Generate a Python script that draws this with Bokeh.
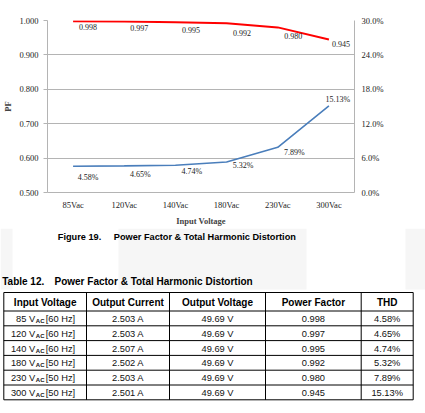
import math
from bokeh.plotting import figure
from bokeh.models import Range1d, LinearAxis, FixedTicker, PrintfTickFormatter, NumeralTickFormatter, Label
from bokeh.embed import file_html
from bokeh.resources import INLINE
from bokeh.core.properties import value

# ---------------- data ----------------
categories = ["85Vac", "120Vac", "140Vac", "180Vac", "230Vac", "300Vac"]
pf_values = [0.998, 0.997, 0.995, 0.992, 0.980, 0.945]
thd_values = [4.58, 4.65, 4.74, 5.32, 7.89, 15.13]          # percent
pf_ticks = [0.5, 0.6, 0.7, 0.8, 0.9, 1.0]
thd_ticks = [0, 6, 12, 18, 24, 30]

table_headers = ["Input Voltage", "Output Current", "Output Voltage", "Power Factor", "THD"]
table_vin = ["85", "120", "140", "180", "230", "300"]
table_freq = ["[60 Hz]", "[60 Hz]", "[60 Hz]", "[50 Hz]", "[50 Hz]", "[50 Hz]"]
table_iout = ["2.503 A", "2.503 A", "2.507 A", "2.502 A", "2.503 A", "2.501 A"]
table_vout = ["49.69 V", "49.69 V", "49.69 V", "49.69 V", "49.69 V", "49.69 V"]
table_pf = ["0.998", "0.997", "0.995", "0.992", "0.980", "0.945"]
table_thd = ["4.58%", "4.65%", "4.74%", "5.32%", "7.89%", "15.13%"]

figure_caption = ["Figure 19.", "Power Factor & Total Harmonic Distortion"]
table_caption = ["Table 12.", "Power Factor & Total Harmonic Distortion"]

# ---------------- styles ----------------
SERIF = "Liberation Serif"
SANS = "Liberation Sans"
GRID = "#b4b4b4"
RED = "#ff0000"
BLUE = "#4a7ebb"
pf_label_dx = [15, 15, 15.5, 15.5, 15.5, 12]
pf_label_dy = [6, 6, 7.5, 9.5, 9, 5]
thd_label_dx = [15, 16, 16.5, 16.5, 16.5, 9]
thd_label_dy = [11, 9, 6, 4, 5, -6]

W = 425
H_CHART = 228
H_TABLE = 185

# ---------------- chart ----------------
p = figure(x_range=categories, y_range=Range1d(0.5, 1.0), width=W, height=H_CHART,
           output_backend="svg", toolbar_location=None,
           min_border_left=43, min_border_right=71, min_border_top=20, min_border_bottom=35)
p.outline_line_color = None
p.background_fill_color = None
p.border_fill_color = None
p.xgrid.visible = False
p.ygrid.grid_line_color = GRID
p.ygrid.ticker = FixedTicker(ticks=pf_ticks)

ya = p.yaxis[0]
ya.ticker = FixedTicker(ticks=pf_ticks)
ya.formatter = NumeralTickFormatter(format="0.000")
ya.axis_line_color = GRID
ya.major_tick_line_color = GRID
ya.major_tick_out = 4
ya.major_tick_in = 0
ya.minor_tick_line_color = None
ya.major_label_standoff = 5
ya.major_label_text_font = SERIF
ya.major_label_text_font_size = "8.5px"
ya.major_label_text_color = "#222222"
ya.axis_label = "PF"
ya.axis_label_text_font = SERIF
ya.axis_label_text_font_style = "bold"
ya.axis_label_text_font_size = "8.5px"
ya.axis_label_standoff = 3

xa = p.xaxis[0]
xa.axis_line_color = GRID
xa.major_tick_line_color = None
xa.major_tick_out = 0
xa.major_tick_in = 0
xa.major_label_standoff = 7
xa.major_label_text_font = SERIF
xa.major_label_text_font_size = "8.5px"
xa.major_label_text_color = "#222222"
xa.axis_label = "Input Voltage"
xa.axis_label_text_font = SERIF
xa.axis_label_text_font_style = "bold"
xa.axis_label_text_font_size = "8.5px"
xa.axis_label_standoff = 3

p.extra_y_ranges = {"thd": Range1d(0, 30)}
ra = LinearAxis(y_range_name="thd", ticker=FixedTicker(ticks=thd_ticks),
                formatter=PrintfTickFormatter(format="%.1f%%"))
ra.axis_line_color = GRID
ra.major_tick_line_color = None
ra.major_tick_out = 0
ra.major_tick_in = 0
ra.minor_tick_line_color = None
ra.major_label_standoff = 7
ra.major_label_text_font = SERIF
ra.major_label_text_font_size = "8.5px"
ra.major_label_text_color = "#222222"
p.add_layout(ra, "right")

# right axis title, reading bottom-to-top like the reference
p.add_layout(Label(x=len(categories), y=15, y_range_name="thd", x_offset=46, text="THD",
                   angle=math.pi / 2, text_align="center", text_baseline="middle",
                   text_font=SERIF, text_font_style="bold", text_font_size="8.5px",
                   text_color="#000000"))

p.line(categories, pf_values, line_color=RED, line_width=2)
p.line(categories, thd_values, y_range_name="thd", line_color=BLUE, line_width=1.6)

p.text(x=categories, y=pf_values, text=[f"{v:.3f}" for v in pf_values],
       x_offset=pf_label_dx, y_offset=pf_label_dy, text_align="center", text_baseline="middle",
       text_font=value(SERIF), text_font_size="8px", text_color="#222222")
p.text(x=categories, y=thd_values, text=[f"{v:.2f}%" for v in thd_values],
       x_offset=thd_label_dx, y_offset=thd_label_dy, y_range_name="thd",
       text_align="center", text_baseline="middle",
       text_font=value(SERIF), text_font_size="8px", text_color="#222222")

# ---------------- caption + table (page pixel coordinates) ----------------
t = figure(width=W, height=H_TABLE, x_range=Range1d(0, W),
           y_range=Range1d(H_CHART + H_TABLE, H_CHART),
           output_backend="svg", toolbar_location=None,
           x_axis_location=None, y_axis_location=None, min_border=0)
t.outline_line_color = None
t.grid.visible = False
t.background_fill_color = None
t.border_fill_color = None

# faint watermark shapes
t.quad(left=[0, 118, 405], right=[12, 306, 425], top=[228, 228, 228], bottom=[289, 289, 289],
       fill_color="#f6f6f6", line_color=None)

t.text(x=[57.3, 113.3], y=[236.5, 236.5], text=figure_caption, text_align="left",
       text_baseline="middle", text_font=value(SANS), text_font_style="bold",
       text_font_size="9.2px", text_color="#000000")
t.text(x=[1.7, 54], y=[281, 281], text=table_caption, text_align="left",
       text_baseline="middle", text_font=value(SANS), text_font_style="bold",
       text_font_size="10px", text_color="#000000")

col_edges = [3.3, 86, 169, 265, 360.7, 412.7]
top_y, head_y, row_h = 292, 310.5, 14.8
n_rows = len(table_vin)
bottom_y = head_y + row_h * n_rows

hx0 = [col_edges[0]] * (n_rows + 2)
hx1 = [col_edges[-1]] * (n_rows + 2)
hy = [top_y, head_y] + [head_y + row_h * (i + 1) for i in range(n_rows)]
t.segment(x0=hx0, y0=hy, x1=hx1, y1=hy, line_color="#000000", line_width=1)
t.segment(x0=col_edges, y0=[top_y] * len(col_edges), x1=col_edges,
          y1=[bottom_y] * len(col_edges), line_color="#000000", line_width=1)

centers = [(col_edges[i] + col_edges[i + 1]) / 2 for i in range(5)]
t.text(x=centers, y=[(top_y + head_y) / 2 + 0.5] * 5, text=table_headers,
       text_align="center", text_baseline="middle", text_font=value(SANS),
       text_font_style="bold", text_font_size="10px", text_color="#000000")

row_y = [head_y + row_h * (i + 0.5) + 0.5 for i in range(n_rows)]
body_style = dict(text_baseline="middle", text_font=value(SANS), text_font_size="9.3px",
                  text_color="#111111")
v_end = 34.7
t.text(x=[v_end] * n_rows, y=row_y, text=[f"{v} V" for v in table_vin],
       text_align="right", **body_style)
t.text(x=[v_end + 0.6] * n_rows, y=[y + 2 for y in row_y], text=["AC"] * n_rows,
       text_align="left", text_baseline="middle", text_font=value(SANS),
       text_font_style="bold", text_font_size="6px", text_color="#111111")
t.text(x=[45.2] * n_rows, y=row_y, text=table_freq, text_align="left", **body_style)
for ci, col in zip(range(1, 5), [table_iout, table_vout, table_pf, table_thd]):
    t.text(x=[centers[ci]] * n_rows, y=row_y, text=col, text_align="center", **body_style)

open("out.html", "w").write(file_html([p, t], INLINE))
